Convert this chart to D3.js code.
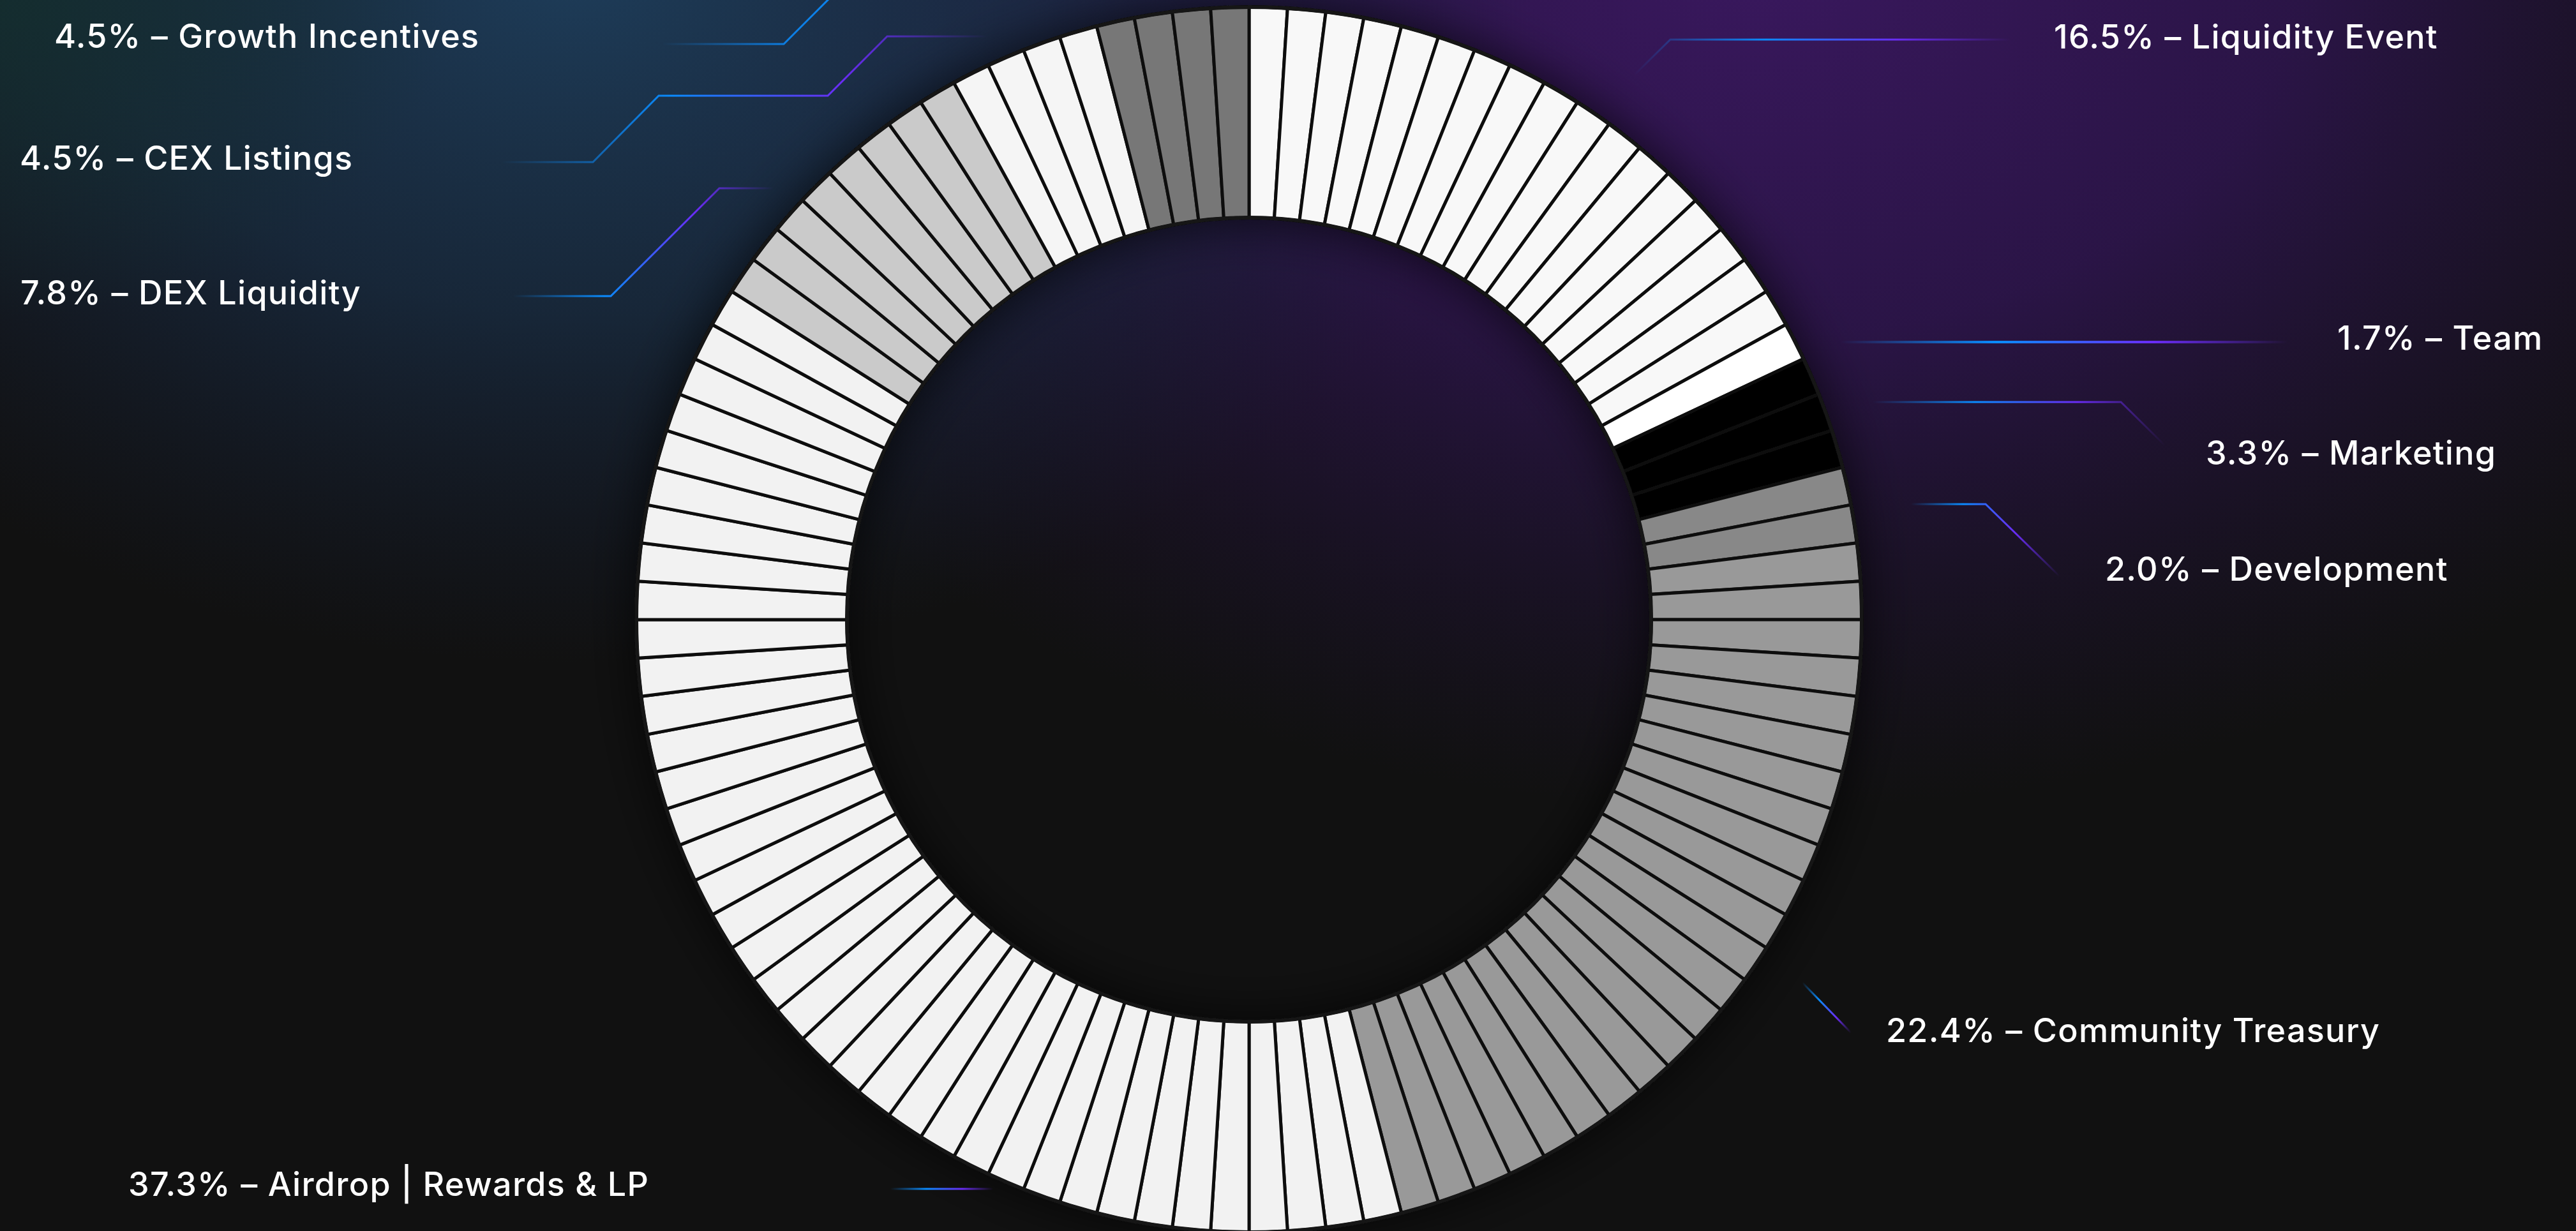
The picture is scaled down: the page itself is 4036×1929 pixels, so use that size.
<!DOCTYPE html>
<html>
<head>
<meta charset="utf-8">
<script src="https://cdn.jsdelivr.net/npm/d3@7"></script>
<style>
	html, body { margin: 0; padding: 0; background: #111111; overflow: hidden; }
	svg { display: block; }
</style>
</head>
<body>
<div class="chart"></div>
<script>
// allocation data, clockwise from 12 o'clock
var categories = ['Liquidity Event', 'Team', 'Marketing', 'Development', 'Community Treasury',
	'Airdrop | Rewards & LP', 'DEX Liquidity', 'CEX Listings', 'Growth Incentives'];
var shares = [16.5, 1.7, 3.3, 2.0, 22.4, 37.3, 7.8, 4.5, 4.5];
// number of ring segments drawn for each category (100 in total)
var segments = [17, 1, 3, 2, 23, 38, 8, 4, 4];
var fills = ['#f8f8f8', '#ffffff', '#020202', '#888888', '#999999',
	'#f2f2f2', '#cacaca', '#f5f5f5', '#777777'];

var width = 4036;
var height = 1929;
var cx = 1957, cy = 971;
var outerR = 960, innerR = 630;

var svg = d3.select('.chart').append('svg')
	.attr('width', width)
	.attr('height', height);

var defs = svg.append('defs');

// background glows
function radial(id, stops) {
	var g = defs.append('radialGradient').attr('id', id);
	stops.forEach(function(s) {
		g.append('stop').attr('offset', s[0]).attr('stop-color', s[1]).attr('stop-opacity', s[2]);
	});
}
radial('glowBlue', [[0, '#1e3d5a', 1], [0.5, '#1a3049', 0.7], [1, '#16203a', 0]]);
radial('glowTeal', [[0, '#14302f', 0.8], [1, '#14302f', 0]]);
radial('glowPurple', [[0, '#3a185f', 1], [0.45, '#2f1550', 0.85], [1, '#21123a', 0]]);

svg.append('rect').attr('width', width).attr('height', height).attr('fill', '#111111');
svg.append('ellipse').attr('cx', 2750).attr('cy', -80).attr('rx', 1900).attr('ry', 1350)
	.attr('fill', 'url(#glowPurple)');
svg.append('ellipse').attr('cx', 900).attr('cy', -60).attr('rx', 1500).attr('ry', 1100)
	.attr('fill', 'url(#glowBlue)');
svg.append('ellipse').attr('cx', 0).attr('cy', 0).attr('rx', 700).attr('ry', 500)
	.attr('fill', 'url(#glowTeal)');

// shadow around the ring
var shadow = defs.append('filter').attr('id', 'ringShadow')
	.attr('x', '-20%').attr('y', '-20%').attr('width', '140%').attr('height', '140%');
shadow.append('feDropShadow')
	.attr('dx', 0).attr('dy', 0)
	.attr('stdDeviation', 40)
	.attr('flood-color', '#000000')
	.attr('flood-opacity', 0.7);

// one unit per ring segment
var units = [];
segments.forEach(function(n, i) {
	for (var k = 0; k < n; k += 1) {
		units.push({ cat: i, k: k });
	}
});

var pie = d3.pie().sort(null).value(function() { return 1; });
var arc = d3.arc().innerRadius(innerR).outerRadius(outerR);

var ring = svg.append('g')
	.attr('class', 'ring')
	.attr('transform', 'translate(' + cx + ',' + cy + ')')
	.attr('filter', 'url(#ringShadow)');

ring.selectAll('path.slice')
	.data(pie(units))
	.enter().append('path')
	.attr('class', 'slice')
	.attr('d', arc)
	.attr('fill', function(d) { return fills[d.data.cat]; })
	.attr('stroke', '#111111')
	.attr('stroke-width', 5)
	.attr('stroke-linejoin', 'miter');

// outline of the ring
ring.append('circle').attr('r', outerR).attr('fill', 'none')
	.attr('stroke', '#121212').attr('stroke-width', 6);
ring.append('circle').attr('r', innerR).attr('fill', 'none')
	.attr('stroke', '#121212').attr('stroke-width', 6);

// label placement (layout only): text anchor and leader polyline
var labelLayout = [
	{ x: 3218, y: 57, line: [[2560, 118], [2617, 62], [3150, 62]] },
	{ x: 3662, y: 529, line: [[2884, 536], [3584, 536]], w: 4 },
	{ x: 3456, y: 709, line: [[2934, 630], [3323, 630], [3392, 698]] },
	{ x: 3298, y: 891, line: [[2994, 790], [3111, 790], [3227, 903]] },
	{ x: 2955, y: 1614, line: [[2824, 1540], [2900, 1618]] },
	{ x: 201, y: 1855, line: [[1395, 1863], [1556, 1863]] },
	{ x: 32, y: 458, line: [[804, 464], [957, 464], [1127, 295], [1212, 295]] },
	{ x: 31, y: 247, line: [[786, 254], [929, 254], [1032, 150], [1297, 150], [1390, 57], [1547, 57]] },
	{ x: 85, y: 56, line: [[1038, 69], [1228, 69], [1299, -2]], blueOnly: true }
];

var labels = svg.append('g').attr('class', 'labels');

labelLayout.forEach(function(l, i) {
	var xs = l.line.map(function(p) { return p[0]; });
	var gid = 'lead' + i;
	var g = defs.append('linearGradient').attr('id', gid)
		.attr('gradientUnits', 'userSpaceOnUse')
		.attr('x1', d3.min(xs)).attr('y1', 0)
		.attr('x2', d3.max(xs)).attr('y2', 0);
	var stops = l.blueOnly ?
		[[0, '#0a8cff', 0], [0.75, '#0a8cff', 0.85], [1, '#0a8cff', 0.9]] :
		[[0, '#0a8cff', 0], [0.35, '#0a8cff', 1], [0.7, '#6a2cf5', 1], [1, '#6a2cf5', 0]];
	stops.forEach(function(s) {
		g.append('stop').attr('offset', s[0]).attr('stop-color', s[1]).attr('stop-opacity', s[2]);
	});

	labels.append('path')
		.attr('class', 'leader')
		.attr('d', d3.line()(l.line))
		.attr('fill', 'none')
		.attr('stroke', 'url(#' + gid + ')')
		.attr('stroke-width', l.w || 3);

	labels.append('text')
		.attr('x', l.x)
		.attr('y', l.y)
		.attr('dy', '0.36em')
		.attr('fill', '#ffffff')
		.attr('font-family', 'Inter, "Noto Sans", sans-serif')
		.attr('font-weight', 500)
		.attr('font-size', 52)
		.attr('letter-spacing', 1.3)
		.text(shares[i].toFixed(1) + '% \u2013 ' + categories[i]);
});
</script>
</body>
</html>
